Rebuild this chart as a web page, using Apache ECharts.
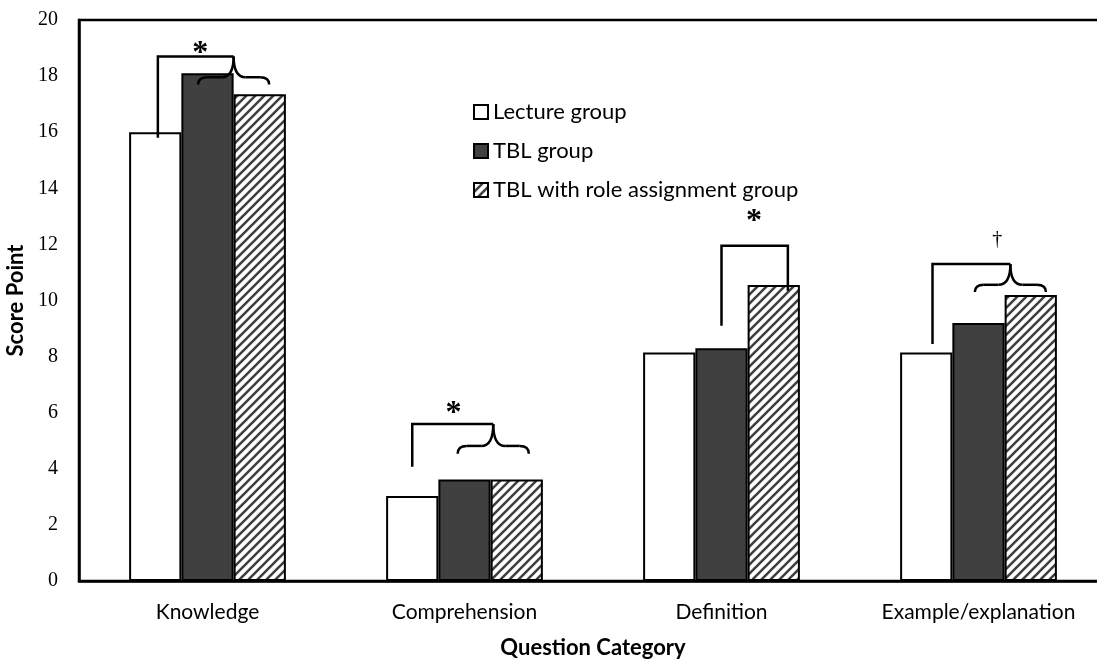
<!DOCTYPE html>
<html>
<head>
<meta charset="utf-8">
<script src="https://cdn.jsdelivr.net/npm/echarts@6/dist/echarts.min.js"></script>
<style>
  html, body { margin: 0; padding: 0; background: #fff; }
  #chart { width: 1097px; height: 659px; }
</style>
</head>
<body>
<div id="chart"></div>
<script>
// Mean scores per question category for each teaching group
const categories = ['Knowledge', 'Comprehension', 'Definition', 'Example/explanation'];
const lectureScores = [16.0, 3.03, 8.15, 8.15];
const tblScores = [18.1, 3.62, 8.3, 9.2];
const tblRoleScores = [17.35, 3.62, 10.55, 10.2];
const seriesNames = ['Lecture group', 'TBL group', 'TBL with role assignment group'];
const yTicks = { min: 0, max: 20, step: 2 };

// Significance brackets, in bar slots (0 = lecture, 1 = TBL, 2 = role group) and score units
const sigBrackets = [
  { cat: 0, left: 0.05, right: 1.5, top: 18.7, leftEnd: 15.8, rightEnd: null, braceEnd: 17.7, mark: '*', markX: 0.86, markY: 19.1 },
  { cat: 1, left: 0.0, right: 1.55, top: 5.6, leftEnd: 4.07, rightEnd: null, braceEnd: 4.54, mark: '*', markX: 0.79, markY: 6.25 },
  { cat: 2, left: 1.0, right: 2.27, top: 11.95, leftEnd: 9.1, rightEnd: 10.35, braceEnd: null, mark: '*', markX: 1.62, markY: 13.1 },
  { cat: 3, left: 0.12, right: 1.61, top: 11.3, leftEnd: 8.45, rightEnd: null, braceEnd: 10.3, mark: '\u2020', markX: 1.36, markY: 12.15 }
];

const CATEGORY_GAP = 0.39;
const INK = '#000';
const DARK = '#404040';

// Diagonal hatch tile for the role-assignment group
function hatchPattern() {
  const s = 9;
  const c = document.createElement('canvas');
  c.width = s; c.height = s;
  const g = c.getContext('2d');
  g.fillStyle = '#fff';
  g.fillRect(0, 0, s, s);
  g.strokeStyle = DARK;
  g.lineWidth = 2.6;
  g.beginPath();
  g.moveTo(-2, s + 2); g.lineTo(s + 2, -2);
  g.moveTo(-2, 2); g.lineTo(2, -2);
  g.moveTo(s - 2, s + 2); g.lineTo(s + 2, s - 2);
  g.stroke();
  return c;
}

const chart = echarts.init(document.getElementById('chart'), null, { renderer: 'canvas' });

function renderBracket(params, api) {
  const b = sigBrackets[params.dataIndex];
  const center = api.coord([b.cat, 0])[0];
  const band = api.size([1, 0])[0];
  const bw = band * (1 - CATEGORY_GAP) / 3;
  const xAt = slot => center + (slot - 1) * bw;
  const yAt = v => api.coord([b.cat, v])[1];
  const stroke = { stroke: INK, lineWidth: 2.5, fill: null };
  const xl = xAt(b.left), xr = xAt(b.right), yt = yAt(b.top);
  const children = [];
  children.push({ type: 'polyline', shape: { points: [[xl, yAt(b.leftEnd)], [xl, yt], [xr, yt]].concat(b.rightEnd != null ? [[xr, yAt(b.rightEnd)]] : []) }, style: stroke });
  if (b.braceEnd != null) {
    const yb = yAt(b.braceEnd);
    const h = bw * 0.68;
    const ym = yt + (yb - yt) * 0.74;
    const r = 9;
    const r2 = 12;
    [-1, 1].forEach(dir => {
      const xe = xr + dir * h;
      children.push({ type: 'bezierCurve', shape: { x1: xe, y1: yb, cpx1: xe, cpy1: ym, x2: xe - dir * r, y2: ym }, style: stroke });
      children.push({ type: 'line', shape: { x1: xe - dir * r, y1: ym, x2: xr + dir * r2, y2: ym }, style: stroke });
      children.push({ type: 'bezierCurve', shape: { x1: xr + dir * r2, y1: ym, cpx1: xr, cpy1: ym, x2: xr, y2: yt }, style: stroke });
    });
  }
  const isStar = b.mark === '*';
  children.push({
    type: 'text',
    style: {
      x: xAt(b.markX), y: yAt(b.markY) + (isStar ? 8 : 0),
      text: b.mark, fill: INK,
      font: isStar ? 'bold 32px "Liberation Serif"' : '20px "Liberation Serif"',
      align: 'center', verticalAlign: 'middle'
    }
  });
  return { type: 'group', children: children };
}

const barBorder = { borderColor: INK, borderWidth: 2 };

chart.setOption({
  animation: false,
  backgroundColor: '#fff',
  grid: {
    left: 79, top: 20, bottom: 78, right: -10,
    outerBoundsMode: 'none',
    containLabel: false,
    show: true, borderColor: INK, borderWidth: 2.5, backgroundColor: 'transparent'
  },
  legend: {
    data: seriesNames,
    orient: 'vertical',
    left: 468, top: 95,
    itemWidth: 14, itemHeight: 14, itemGap: 15,
    icon: 'rect',
    textStyle: { fontFamily: 'Lato', fontSize: 22, color: INK, lineHeight: 24 }
  },
  xAxis: {
    type: 'category',
    data: categories,
    name: 'Question Category',
    nameLocation: 'middle',
    nameGap: 56,
    nameTextStyle: { fontFamily: 'Lato', fontWeight: 'bold', fontSize: 22, color: INK },
    axisLine: { lineStyle: { color: INK, width: 2.5 } },
    axisTick: { show: false },
    axisLabel: { fontFamily: 'Lato', fontSize: 21, color: INK, margin: 21 },
    splitLine: { show: false }
  },
  yAxis: {
    type: 'value',
    min: yTicks.min, max: yTicks.max, interval: yTicks.step,
    name: 'Score Point',
    nameLocation: 'middle',
    nameGap: 50,
    nameTextStyle: { fontFamily: 'Lato', fontWeight: 'bold', fontSize: 22, color: INK },
    axisLine: { show: true, lineStyle: { color: INK, width: 2.5 } },
    axisTick: { show: false },
    axisLabel: { fontFamily: 'Liberation Serif', fontSize: 20, color: INK, margin: 21 },
    splitLine: { show: false }
  },
  series: [
    {
      name: seriesNames[0], type: 'bar', data: lectureScores,
      barGap: '0%', barCategoryGap: (CATEGORY_GAP * 100) + '%',
      itemStyle: Object.assign({ color: '#fff' }, barBorder)
    },
    {
      name: seriesNames[1], type: 'bar', data: tblScores,
      barGap: '0%', barCategoryGap: (CATEGORY_GAP * 100) + '%',
      itemStyle: Object.assign({ color: DARK }, barBorder)
    },
    {
      name: seriesNames[2], type: 'bar', data: tblRoleScores,
      barGap: '0%', barCategoryGap: (CATEGORY_GAP * 100) + '%',
      itemStyle: Object.assign({ color: { image: hatchPattern(), repeat: 'repeat' } }, barBorder)
    },
    {
      type: 'custom',
      name: 'significance',
      renderItem: renderBracket,
      data: sigBrackets.map(b => [b.cat, b.top]),
      z: 5,
      silent: true
    }
  ]
});
</script>
</body>
</html>
